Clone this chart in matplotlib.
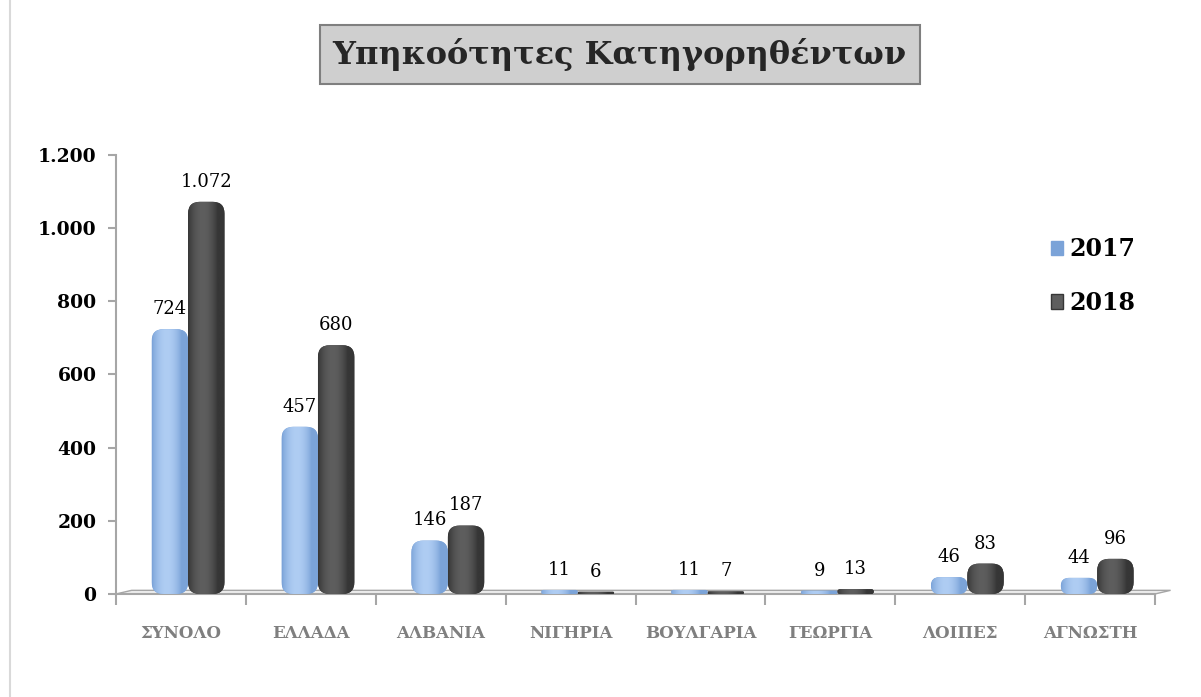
"""Υπηκοότητες Κατηγορηθέντων: ομαδοποιημένο ραβδόγραμμα 2017 / 2018"""

import numpy as np
import matplotlib

matplotlib.use("Agg")
import matplotlib.pyplot as plt
from matplotlib.patches import FancyBboxPatch, Rectangle, Polygon

categories = ["ΣΥΝΟΛΟ", "ΕΛΛΑΔΑ", "ΑΛΒΑΝΙΑ", "ΝΙΓΗΡΙΑ", "ΒΟΥΛΓΑΡΙΑ",
              "ΓΕΩΡΓΙΑ", "ΛΟΙΠΕΣ", "ΑΓΝΩΣΤΗ"]
values_2017 = [724, 457, 146, 11, 11, 9, 46, 44]
values_2018 = [1072, 680, 187, 6, 7, 13, 83, 96]
series_labels = ["2017", "2018"]
y_ticks = [0, 200, 400, 600, 800, 1000, 1200]

SERIF = ["DejaVu Serif"]
# グラデーション色（端, 中央ハイライト）
BLUE = ("#7BA3D8", "#AFCDF3")
DARK = ("#363636", "#5E5E5E")
BAR_W = 0.28
# 3D 風の奥行きによる横ずれ（カテゴリ単位）
DEPTH_SHIFT = 0.055


def fmt(v):
    return f"{v:,}".replace(",", ".")


fig = plt.figure(figsize=(12.01, 6.97), dpi=100)
ax = fig.add_axes([0.0966, 0.1478, 0.8651, 0.6298])

x = np.arange(len(categories))
# 1 px あたりの y 単位 / x 単位（角丸のアスペクト補正）
px_x = 1 / 130.0
px_y = 1200 / 439.0
aspect = px_y / px_x

grad = np.linspace(0, 1, 64)
grad = np.sin(np.clip(grad * 1.25, 0, 1) * np.pi) ** 0.8


def draw_bars(xs, vals, colors):
    bars = ax.bar(xs, vals, BAR_W, color="none", edgecolor="none")
    cmap = matplotlib.colors.LinearSegmentedColormap.from_list("g", colors)
    for rect in bars:
        x0, w, h = rect.get_x(), rect.get_width(), rect.get_height()
        r = min(0.09, h / aspect / 2.0)
        patch = FancyBboxPatch((x0, 0), w, h,
                               boxstyle=f"round,pad=0,rounding_size={r}",
                               mutation_aspect=aspect,
                               facecolor=colors[0], edgecolor="none", zorder=3)
        ax.add_patch(patch)
        im = ax.imshow(grad[np.newaxis, :], cmap=cmap, aspect="auto",
                       extent=(x0, x0 + w, 0, h), zorder=3.1)
        im.set_clip_path(patch)
    return bars


x17 = x + DEPTH_SHIFT - BAR_W / 2
x18 = x + DEPTH_SHIFT + BAR_W / 2
draw_bars(x17, values_2017, BLUE)
draw_bars(x18, values_2018, DARK)
ax.set_xlim(-0.5, len(categories) - 0.5)
ax.set_ylim(0, 1200)

# データラベル
for xs, vals in ((x17, values_2017), (x18, values_2018)):
    for xi, v in zip(xs, vals):
        ax.annotate(fmt(v), (xi, v), xytext=(0, 8), textcoords="offset points",
                    ha="center", va="bottom", fontsize=13, family=SERIF,
                    color="black", zorder=5)

# 床（奥行き付きの薄い面）
floor = Polygon([(-0.5, 0), (len(categories) - 0.5, 0),
                 (len(categories) - 0.38, 10), (-0.38, 10)],
                closed=True, facecolor="#EDEDED", edgecolor="#A6A6A6",
                linewidth=1.0, zorder=1, clip_on=False)
ax.add_patch(floor)

for side in ("top", "right"):
    ax.spines[side].set_visible(False)
for side in ("left", "bottom"):
    ax.spines[side].set_color("#A6A6A6")
    ax.spines[side].set_linewidth(1.5)

ax.set_yticks(y_ticks)
ax.set_yticklabels([fmt(t) for t in y_ticks], fontsize=13.5, fontweight="bold",
                   family=SERIF)
ax.tick_params(axis="y", length=6, width=1.5, color="#A6A6A6", pad=8)

ax.set_xticks(np.arange(len(categories) + 1) - 0.5)
ax.set_xticklabels([])
ax.set_xticks(x, minor=True)
ax.set_xticklabels(categories, minor=True, fontsize=12, fontweight="bold",
                   family=SERIF, color="#7F7F7F")
ax.tick_params(axis="x", which="major", length=8, width=1.5, color="#A6A6A6")
ax.tick_params(axis="x", which="minor", length=0, pad=22)

# 凡例
handles = [Rectangle((0, 0), 1, 1, facecolor=BLUE[0], edgecolor=BLUE[0]),
           Rectangle((0, 0), 1, 1, facecolor=DARK[1], edgecolor=DARK[0])]
fig.legend(handles, series_labels, loc="upper left",
           bbox_to_anchor=(0.857, 0.69), frameon=False,
           prop={"family": SERIF, "weight": "bold", "size": 17},
           handlelength=0.55, handleheight=0.55, handletextpad=0.25,
           labelspacing=1.25)

# タイトル（灰色の枠）
fig.text(0.516, 0.922, "Υπηκοότητες Κατηγορηθέντων", ha="center", va="center",
         fontsize=23, fontweight="bold", family=SERIF, color="#262626",
         bbox=dict(boxstyle="square,pad=0.4", facecolor="#CFCFCF",
                   edgecolor="#7F7F7F", linewidth=1.5))

# 外枠
fig.add_artist(Rectangle((0.008, -0.01), 1.1, 1.1, transform=fig.transFigure,
                         facecolor="none", edgecolor="#D9D9D9", linewidth=1.5))

fig.savefig("out.png", dpi=100)
